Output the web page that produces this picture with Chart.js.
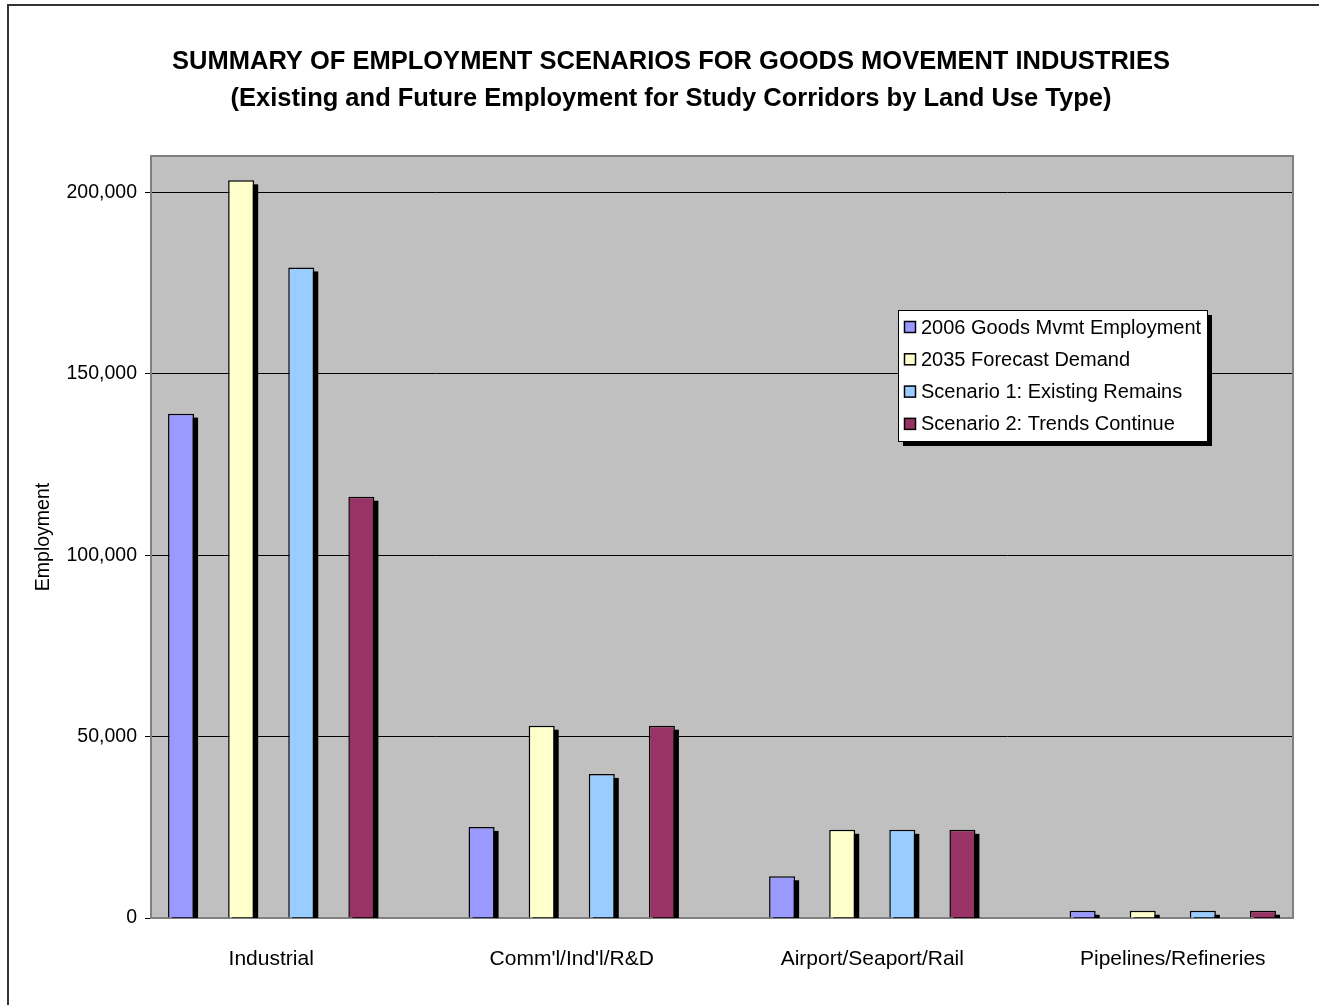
<!DOCTYPE html>
<html>
<head>
<meta charset="utf-8">
<title>Goods Movement Employment</title>
<script src="https://cdn.jsdelivr.net/npm/chart.js@4.4.0/dist/chart.umd.min.js"></script>
<style>
html, body { margin: 0; padding: 0; background: #fff; overflow: hidden; }
#wrap { width: 1319px; height: 1005px; }
</style>
</head>
<body>
<div id="wrap"><canvas id="chart" width="1319" height="1005"></canvas></div>
<script>
// data
const categories = ['Industrial', "Comm'l/Ind'l/R&D", 'Airport/Seaport/Rail', 'Pipelines/Refineries'];
const emp2006 = [139000, 25100, 11500, 2000];
const demand2035 = [203300, 53000, 24300, 2000];
const scenario1 = [179300, 39700, 24300, 2000];
const scenario2 = [116100, 53000, 24300, 2000];
const yTicks = [0, 50000, 100000, 150000, 200000];

const seriesNames = ['2006 Goods Mvmt Employment', '2035 Forecast Demand', 'Scenario 1: Existing Remains', 'Scenario 2: Trends Continue'];
const seriesColors = ['#9999FF', '#FFFFCC', '#99CCFF', '#993366'];

const FONT = '"Liberation Sans", Arial, sans-serif';
Chart.defaults.font.family = FONT;
Chart.defaults.color = '#000';

function toPoints(arr) {
return arr.map((v, i) => ({ x: i, y: v }));
}

// white page, outer frame, grey plot area
const background = {
id: 'background',
beforeDraw(chart) {
const ctx = chart.ctx;
const a = chart.chartArea;
ctx.save();
ctx.fillStyle = '#fff';
ctx.fillRect(0, 0, chart.width, chart.height);
ctx.strokeStyle = '#333';
ctx.lineWidth = 2;
ctx.beginPath();
ctx.moveTo(8, chart.height);
ctx.lineTo(8, 5);
ctx.lineTo(chart.width, 5);
ctx.stroke();
ctx.fillStyle = '#C0C0C0';
ctx.fillRect(a.left, a.top, a.right - a.left, a.bottom - a.top);
ctx.restore();
}
};

// plot frame + black drop shadow behind every bar
const barShadow = {
id: 'barShadow',
beforeDatasetsDraw(chart) {
const ctx = chart.ctx;
const a = chart.chartArea;
ctx.save();
ctx.strokeStyle = '#808080';
ctx.lineWidth = 2;
ctx.strokeRect(a.left, a.top, a.right - a.left, a.bottom - a.top);
ctx.beginPath();
ctx.rect(a.left, a.top, a.right - a.left, a.bottom - a.top);
ctx.clip();
ctx.fillStyle = '#000';
chart.data.datasets.forEach((ds, i) => {
chart.getDatasetMeta(i).data.forEach(bar => {
const p = bar.getProps(['x', 'y', 'base', 'width'], true);
ctx.fillRect(p.x - p.width / 2 + 4, p.y + 4, p.width, p.base - p.y);
});
});
ctx.restore();
}
};

// boxed legend inside the plot, like the excel one
const boxLegend = {
id: 'boxLegend',
afterDraw(chart) {
const ctx = chart.ctx;
const a = chart.chartArea;
const left = a.right - 395, top = a.top + 154, w = 309, h = 131;
ctx.save();
ctx.fillStyle = '#000';
ctx.fillRect(left + 5, top + 5, w, h);
ctx.fillStyle = '#fff';
ctx.fillRect(left, top, w, h);
ctx.strokeStyle = '#000';
ctx.lineWidth = 1;
ctx.strokeRect(left + 0.5, top + 0.5, w, h);
ctx.font = '20px ' + FONT;
ctx.textBaseline = 'middle';
chart.data.datasets.forEach((ds, i) => {
const cy = top + 17 + i * 32.3;
ctx.fillStyle = ds.backgroundColor;
ctx.fillRect(left + 6, cy - 6, 12, 12);
ctx.lineWidth = 1.5;
ctx.strokeRect(left + 6.5, cy - 5.5, 11, 11);
ctx.fillStyle = '#000';
ctx.fillText(ds.label, left + 23, cy + 1);
});
ctx.restore();
}
};

const allSeries = [emp2006, demand2035, scenario1, scenario2];

new Chart(document.getElementById('chart'), {
type: 'bar',
data: {
datasets: allSeries.map((s, i) => ({
label: seriesNames[i],
data: toPoints(s),
backgroundColor: seriesColors[i],
borderColor: '#000',
borderWidth: 1.5,
barPercentage: 0.433,
categoryPercentage: 0.8,
clip: 0
}))
},
options: {
responsive: false,
animation: false,
layout: { padding: { left: 23, right: 0, top: 0, bottom: 0 } },
plugins: {
legend: { display: false },
tooltip: { enabled: false },
title: {
display: true,
text: ['SUMMARY OF EMPLOYMENT SCENARIOS FOR GOODS MOVEMENT INDUSTRIES',
'(Existing and Future Employment for Study Corridors by Land Use Type)'],
font: { size: 25.5, weight: 'bold', lineHeight: '37px' },
color: '#000',
padding: { top: 43.5, bottom: 38.5 }
}
},
scales: {
x: {
type: 'linear',
offset: false,
min: -0.4,
max: 3.4,
afterBuildTicks: s => { s.ticks = categories.map((c, i) => ({ value: i })); },
afterFit: s => { s.height = 87; },
grid: { display: false, drawTicks: false },
border: { display: false },
ticks: {
callback: v => categories[v],
autoSkip: false,
maxRotation: 0,
font: { size: 21 },
color: '#000',
padding: 29
}
},
y: {
min: 0,
max: 210000,
afterBuildTicks: s => { s.ticks = yTicks.map(v => ({ value: v })); },
afterFit: s => { s.width = 128; },
grid: {
color: c => (c.tick && c.tick.value === 0 ? 'rgba(0,0,0,0)' : '#000'),
tickColor: '#000',
tickLength: 6,
lineWidth: 1
},
border: { display: false },
ticks: {
callback: v => v.toLocaleString('en-US'),
font: { size: 19.5 },
color: '#000',
padding: 8
},
title: {
display: true,
text: 'Employment',
font: { size: 19.5 },
color: '#000',
padding: { top: 9, bottom: 0 }
}
},
// empty strip on the right so the title centres like the original
yR: {
position: 'right',
grid: { display: false, drawTicks: false },
border: { display: false },
ticks: { display: false },
afterFit: s => { s.width = 26; }
}
}
},
plugins: [background, barShadow, boxLegend]
});
</script>
</body>
</html>
